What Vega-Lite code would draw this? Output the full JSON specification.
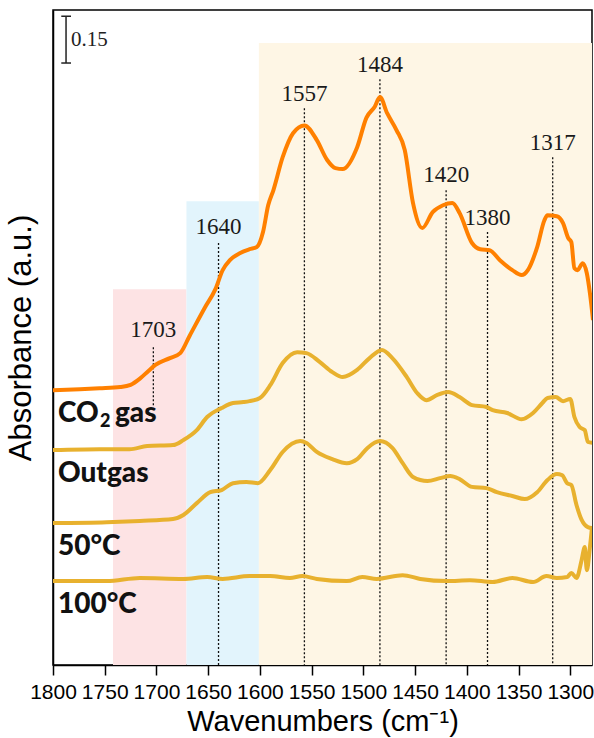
{
  "$schema": "https://vega.github.io/schema/vega-lite/v6.json",
  "width": 539,
  "height": 655,
  "autosize": {"type": "none"},
  "padding": {"left": 53, "top": 10, "right": 2, "bottom": 73},
  "background": "white",
  "config": {
    "view": {"stroke": "black", "strokeWidth": 1.5},
    "font": "Liberation Sans"
  },
  "resolve": {"scale": {"color": "independent"}},
  "datasets": {
    "bands": [
      {"band": "carbonyl", "from": 1742, "to": 1671, "top": 1.205},
      {"band": "bicarbonate", "from": 1671, "to": 1601, "top": 1.487},
      {"band": "carbonate", "from": 1601, "to": 1279, "top": 1.994}
    ],
    "peaks": [
      {"peak": 1703, "labelY": 1.051, "lineTop": 1.019, "lineBottom": 0.833},
      {"peak": 1640, "labelY": 1.381, "lineTop": 1.353, "lineBottom": 0},
      {"peak": 1557, "labelY": 1.808, "lineTop": 1.785, "lineBottom": 0},
      {"peak": 1484, "labelY": 1.901, "lineTop": 1.878, "lineBottom": 0},
      {"peak": 1420, "labelY": 1.548, "lineTop": 1.522, "lineBottom": 0},
      {"peak": 1380, "labelY": 1.41, "lineTop": 1.388, "lineBottom": 0},
      {"peak": 1317, "labelY": 1.651, "lineTop": 1.628, "lineBottom": 0}
    ],
    "scalebar": [
      {"x1": 1787.4, "x2": 1787.4, "y1": 1.93, "y2": 2.08},
      {"x1": 1792, "x2": 1782.6, "y1": 2.08, "y2": 2.08},
      {"x1": 1792, "x2": 1782.6, "y1": 1.93, "y2": 1.93}
    ],
    "names": [
      {"text": "CO", "wn": 1795.2, "a": 0.779},
      {"text": "gas", "wn": 1740.1, "a": 0.779},
      {"text": "Outgas", "wn": 1795.2, "a": 0.587},
      {"text": "50°C", "wn": 1795.2, "a": 0.353},
      {"text": "100°C", "wn": 1795.2, "a": 0.167}
    ],
    "subscripts": [
      {"text": "2", "wn": 1754.6, "a": 0.763}
    ],
    "spectra": [
      {"series": "CO2 gas", "wn": 1800, "a": 0.881},
      {"series": "CO2 gas", "wn": 1774, "a": 0.884},
      {"series": "CO2 gas", "wn": 1755, "a": 0.887},
      {"series": "CO2 gas", "wn": 1735, "a": 0.891},
      {"series": "CO2 gas", "wn": 1725, "a": 0.898},
      {"series": "CO2 gas", "wn": 1716, "a": 0.918},
      {"series": "CO2 gas", "wn": 1708, "a": 0.942},
      {"series": "CO2 gas", "wn": 1701, "a": 0.962},
      {"series": "CO2 gas", "wn": 1687, "a": 0.984},
      {"series": "CO2 gas", "wn": 1677, "a": 1.0},
      {"series": "CO2 gas", "wn": 1668, "a": 1.055},
      {"series": "CO2 gas", "wn": 1653, "a": 1.147},
      {"series": "CO2 gas", "wn": 1643, "a": 1.205},
      {"series": "CO2 gas", "wn": 1636, "a": 1.266},
      {"series": "CO2 gas", "wn": 1629, "a": 1.298},
      {"series": "CO2 gas", "wn": 1619, "a": 1.321},
      {"series": "CO2 gas", "wn": 1610, "a": 1.333},
      {"series": "CO2 gas", "wn": 1603, "a": 1.34},
      {"series": "CO2 gas", "wn": 1597, "a": 1.388},
      {"series": "CO2 gas", "wn": 1592, "a": 1.474},
      {"series": "CO2 gas", "wn": 1587, "a": 1.522},
      {"series": "CO2 gas", "wn": 1578, "a": 1.628},
      {"series": "CO2 gas", "wn": 1568, "a": 1.705},
      {"series": "CO2 gas", "wn": 1557, "a": 1.73},
      {"series": "CO2 gas", "wn": 1545, "a": 1.683},
      {"series": "CO2 gas", "wn": 1535, "a": 1.619},
      {"series": "CO2 gas", "wn": 1527, "a": 1.593},
      {"series": "CO2 gas", "wn": 1520, "a": 1.59},
      {"series": "CO2 gas", "wn": 1506, "a": 1.66},
      {"series": "CO2 gas", "wn": 1497, "a": 1.755},
      {"series": "CO2 gas", "wn": 1489, "a": 1.79},
      {"series": "CO2 gas", "wn": 1484, "a": 1.821},
      {"series": "CO2 gas", "wn": 1477, "a": 1.769},
      {"series": "CO2 gas", "wn": 1468, "a": 1.715},
      {"series": "CO2 gas", "wn": 1460, "a": 1.651},
      {"series": "CO2 gas", "wn": 1452, "a": 1.481},
      {"series": "CO2 gas", "wn": 1443, "a": 1.401},
      {"series": "CO2 gas", "wn": 1433, "a": 1.452},
      {"series": "CO2 gas", "wn": 1423, "a": 1.474},
      {"series": "CO2 gas", "wn": 1414, "a": 1.481},
      {"series": "CO2 gas", "wn": 1407, "a": 1.449},
      {"series": "CO2 gas", "wn": 1395, "a": 1.353},
      {"series": "CO2 gas", "wn": 1387, "a": 1.333},
      {"series": "CO2 gas", "wn": 1378, "a": 1.33},
      {"series": "CO2 gas", "wn": 1368, "a": 1.298},
      {"series": "CO2 gas", "wn": 1356, "a": 1.266},
      {"series": "CO2 gas", "wn": 1347, "a": 1.25},
      {"series": "CO2 gas", "wn": 1341, "a": 1.266},
      {"series": "CO2 gas", "wn": 1332, "a": 1.34},
      {"series": "CO2 gas", "wn": 1325, "a": 1.426},
      {"series": "CO2 gas", "wn": 1322, "a": 1.442},
      {"series": "CO2 gas", "wn": 1313, "a": 1.439},
      {"series": "CO2 gas", "wn": 1307, "a": 1.417},
      {"series": "CO2 gas", "wn": 1302, "a": 1.369},
      {"series": "CO2 gas", "wn": 1299, "a": 1.356},
      {"series": "CO2 gas", "wn": 1296, "a": 1.272},
      {"series": "CO2 gas", "wn": 1293, "a": 1.266},
      {"series": "CO2 gas", "wn": 1288, "a": 1.288},
      {"series": "CO2 gas", "wn": 1284, "a": 1.256},
      {"series": "CO2 gas", "wn": 1281, "a": 1.192},
      {"series": "CO2 gas", "wn": 1278, "a": 1.106},

      {"series": "Outgas", "wn": 1800, "a": 0.689},
      {"series": "Outgas", "wn": 1755, "a": 0.692},
      {"series": "Outgas", "wn": 1726, "a": 0.692},
      {"series": "Outgas", "wn": 1709, "a": 0.702},
      {"series": "Outgas", "wn": 1684, "a": 0.705},
      {"series": "Outgas", "wn": 1674, "a": 0.721},
      {"series": "Outgas", "wn": 1661, "a": 0.753},
      {"series": "Outgas", "wn": 1651, "a": 0.795},
      {"series": "Outgas", "wn": 1637, "a": 0.824},
      {"series": "Outgas", "wn": 1626, "a": 0.84},
      {"series": "Outgas", "wn": 1616, "a": 0.843},
      {"series": "Outgas", "wn": 1610, "a": 0.846},
      {"series": "Outgas", "wn": 1600, "a": 0.856},
      {"series": "Outgas", "wn": 1590, "a": 0.897},
      {"series": "Outgas", "wn": 1578, "a": 0.968},
      {"series": "Outgas", "wn": 1564, "a": 1.003},
      {"series": "Outgas", "wn": 1555, "a": 1.0},
      {"series": "Outgas", "wn": 1542, "a": 0.971},
      {"series": "Outgas", "wn": 1530, "a": 0.939},
      {"series": "Outgas", "wn": 1520, "a": 0.923},
      {"series": "Outgas", "wn": 1506, "a": 0.946},
      {"series": "Outgas", "wn": 1494, "a": 0.984},
      {"series": "Outgas", "wn": 1482, "a": 1.01},
      {"series": "Outgas", "wn": 1472, "a": 0.984},
      {"series": "Outgas", "wn": 1458, "a": 0.923},
      {"series": "Outgas", "wn": 1448, "a": 0.872},
      {"series": "Outgas", "wn": 1439, "a": 0.849},
      {"series": "Outgas", "wn": 1429, "a": 0.865},
      {"series": "Outgas", "wn": 1418, "a": 0.875},
      {"series": "Outgas", "wn": 1407, "a": 0.859},
      {"series": "Outgas", "wn": 1395, "a": 0.833},
      {"series": "Outgas", "wn": 1381, "a": 0.827},
      {"series": "Outgas", "wn": 1375, "a": 0.817},
      {"series": "Outgas", "wn": 1361, "a": 0.808},
      {"series": "Outgas", "wn": 1347, "a": 0.788},
      {"series": "Outgas", "wn": 1336, "a": 0.808},
      {"series": "Outgas", "wn": 1327, "a": 0.84},
      {"series": "Outgas", "wn": 1322, "a": 0.856},
      {"series": "Outgas", "wn": 1314, "a": 0.859},
      {"series": "Outgas", "wn": 1307, "a": 0.846},
      {"series": "Outgas", "wn": 1300, "a": 0.853},
      {"series": "Outgas", "wn": 1296, "a": 0.795},
      {"series": "Outgas", "wn": 1291, "a": 0.763},
      {"series": "Outgas", "wn": 1286, "a": 0.753},
      {"series": "Outgas", "wn": 1283, "a": 0.715},
      {"series": "Outgas", "wn": 1278, "a": 0.712},

      {"series": "50°C", "wn": 1800, "a": 0.455},
      {"series": "50°C", "wn": 1748, "a": 0.458},
      {"series": "50°C", "wn": 1716, "a": 0.462},
      {"series": "50°C", "wn": 1684, "a": 0.468},
      {"series": "50°C", "wn": 1674, "a": 0.481},
      {"series": "50°C", "wn": 1661, "a": 0.519},
      {"series": "50°C", "wn": 1648, "a": 0.554},
      {"series": "50°C", "wn": 1637, "a": 0.561},
      {"series": "50°C", "wn": 1626, "a": 0.583},
      {"series": "50°C", "wn": 1613, "a": 0.587},
      {"series": "50°C", "wn": 1602, "a": 0.583},
      {"series": "50°C", "wn": 1590, "a": 0.625},
      {"series": "50°C", "wn": 1578, "a": 0.683},
      {"series": "50°C", "wn": 1561, "a": 0.718},
      {"series": "50°C", "wn": 1555, "a": 0.712},
      {"series": "50°C", "wn": 1545, "a": 0.683},
      {"series": "50°C", "wn": 1530, "a": 0.66},
      {"series": "50°C", "wn": 1516, "a": 0.647},
      {"series": "50°C", "wn": 1506, "a": 0.66},
      {"series": "50°C", "wn": 1496, "a": 0.696},
      {"series": "50°C", "wn": 1484, "a": 0.718},
      {"series": "50°C", "wn": 1472, "a": 0.696},
      {"series": "50°C", "wn": 1462, "a": 0.647},
      {"series": "50°C", "wn": 1452, "a": 0.603},
      {"series": "50°C", "wn": 1438, "a": 0.59},
      {"series": "50°C", "wn": 1426, "a": 0.599},
      {"series": "50°C", "wn": 1416, "a": 0.606},
      {"series": "50°C", "wn": 1407, "a": 0.596},
      {"series": "50°C", "wn": 1395, "a": 0.571},
      {"series": "50°C", "wn": 1381, "a": 0.567},
      {"series": "50°C", "wn": 1371, "a": 0.554},
      {"series": "50°C", "wn": 1356, "a": 0.542},
      {"series": "50°C", "wn": 1344, "a": 0.532},
      {"series": "50°C", "wn": 1332, "a": 0.554},
      {"series": "50°C", "wn": 1322, "a": 0.593},
      {"series": "50°C", "wn": 1313, "a": 0.612},
      {"series": "50°C", "wn": 1308, "a": 0.609},
      {"series": "50°C", "wn": 1303, "a": 0.583},
      {"series": "50°C", "wn": 1299, "a": 0.577},
      {"series": "50°C", "wn": 1294, "a": 0.513},
      {"series": "50°C", "wn": 1289, "a": 0.465},
      {"series": "50°C", "wn": 1283, "a": 0.442},
      {"series": "50°C", "wn": 1279, "a": 0.439},

      {"series": "100°C", "wn": 1800, "a": 0.269},
      {"series": "100°C", "wn": 1748, "a": 0.269},
      {"series": "100°C", "wn": 1716, "a": 0.279},
      {"series": "100°C", "wn": 1674, "a": 0.276},
      {"series": "100°C", "wn": 1651, "a": 0.282},
      {"series": "100°C", "wn": 1636, "a": 0.276},
      {"series": "100°C", "wn": 1610, "a": 0.285},
      {"series": "100°C", "wn": 1590, "a": 0.285},
      {"series": "100°C", "wn": 1571, "a": 0.279},
      {"series": "100°C", "wn": 1559, "a": 0.285},
      {"series": "100°C", "wn": 1545, "a": 0.276},
      {"series": "100°C", "wn": 1516, "a": 0.269},
      {"series": "100°C", "wn": 1501, "a": 0.282},
      {"series": "100°C", "wn": 1487, "a": 0.276},
      {"series": "100°C", "wn": 1462, "a": 0.288},
      {"series": "100°C", "wn": 1445, "a": 0.276},
      {"series": "100°C", "wn": 1419, "a": 0.269},
      {"series": "100°C", "wn": 1397, "a": 0.272},
      {"series": "100°C", "wn": 1375, "a": 0.266},
      {"series": "100°C", "wn": 1356, "a": 0.279},
      {"series": "100°C", "wn": 1336, "a": 0.266},
      {"series": "100°C", "wn": 1323, "a": 0.285},
      {"series": "100°C", "wn": 1313, "a": 0.279},
      {"series": "100°C", "wn": 1303, "a": 0.282},
      {"series": "100°C", "wn": 1299, "a": 0.295},
      {"series": "100°C", "wn": 1294, "a": 0.279},
      {"series": "100°C", "wn": 1289, "a": 0.337},
      {"series": "100°C", "wn": 1286, "a": 0.378},
      {"series": "100°C", "wn": 1284, "a": 0.304},
      {"series": "100°C", "wn": 1281, "a": 0.378},
      {"series": "100°C", "wn": 1279, "a": 0.442}
    ]
  },
  "layer": [
    {
      "data": {"name": "bands"},
      "mark": {"type": "rect"},
      "encoding": {
        "x": {
          "field": "from", "type": "quantitative",
          "scale": {"domain": [1800, 1279], "nice": false, "zero": false},
          "axis": {
            "values": [1800, 1775, 1750, 1725, 1700, 1675, 1650, 1625, 1600, 1575, 1550, 1525, 1500, 1475, 1450, 1425, 1400, 1375, 1350, 1325, 1300],
            "format": "d",
            "labelExpr": "datum.value % 50 === 0 ? datum.label : ''",
            "labelOverlap": false,
            "labelFlush": false,
            "labelFontSize": 21,
            "labelColor": "black",
            "labelPadding": 6,
            "tickColor": "black",
            "tickWidth": 1.5,
            "tickSize": {"condition": {"test": "datum.value % 50 === 0", "value": 10}, "value": 5},
            "domainColor": "black",
            "domainWidth": 1.5,
            "grid": false,
            "title": "Wavenumbers (cm⁻¹)",
            "titleFontSize": 29,
            "titleFontWeight": "normal",
            "titleColor": "black",
            "titlePadding": 5
          }
        },
        "x2": {"field": "to"},
        "y": {
          "field": "top", "type": "quantitative",
          "scale": {"domain": [0, 2.1], "nice": false, "zero": false},
          "axis": {
            "labels": false,
            "ticks": false,
            "grid": false,
            "domainColor": "black",
            "domainWidth": 1.5,
            "title": "Absorbance (a.u.)",
            "titleFontSize": 31,
            "titleFontWeight": "normal",
            "titleColor": "black",
            "titlePadding": 16
          }
        },
        "y2": {"datum": 0},
        "color": {
          "field": "band", "type": "nominal",
          "scale": {"domain": ["carbonyl", "bicarbonate", "carbonate"], "range": ["#FDE3E4", "#E2F4FC", "#FEF6E5"]},
          "legend": null
        }
      }
    },
    {
      "data": {"name": "peaks"},
      "mark": {"type": "rule", "color": "#111", "strokeWidth": 1.3, "strokeDash": [2, 2]},
      "encoding": {
        "x": {"field": "peak", "type": "quantitative"},
        "y": {"field": "lineTop", "type": "quantitative"},
        "y2": {"field": "lineBottom"}
      }
    },
    {
      "data": {"name": "peaks"},
      "mark": {"type": "text", "font": "Liberation Serif", "fontSize": 23, "color": "#1a1a1a", "align": "center", "baseline": "alphabetic"},
      "encoding": {
        "x": {"field": "peak", "type": "quantitative"},
        "y": {"field": "labelY", "type": "quantitative"},
        "text": {"field": "peak", "type": "quantitative", "format": "d"}
      }
    },
    {
      "data": {"name": "spectra"},
      "mark": {"type": "line", "strokeWidth": 4, "interpolate": "monotone", "clip": true},
      "encoding": {
        "x": {"field": "wn", "type": "quantitative"},
        "y": {"field": "a", "type": "quantitative"},
        "color": {
          "field": "series", "type": "nominal",
          "scale": {"domain": ["CO2 gas", "Outgas", "50°C", "100°C"], "range": ["#FF8000", "#E8B12E", "#E8B12E", "#E8B12E"]},
          "legend": null
        }
      }
    },
    {
      "data": {"name": "scalebar"},
      "mark": {"type": "rule", "color": "#222", "strokeWidth": 1.5},
      "encoding": {
        "x": {"field": "x1", "type": "quantitative"},
        "x2": {"field": "x2"},
        "y": {"field": "y1", "type": "quantitative"},
        "y2": {"field": "y2"}
      }
    },
    {
      "data": {"values": [{"text": "0.15", "wn": 1782.6, "a": 2.003}]},
      "mark": {"type": "text", "font": "Liberation Serif", "fontSize": 21, "color": "#222", "align": "left", "baseline": "middle"},
      "encoding": {
        "x": {"field": "wn", "type": "quantitative"},
        "y": {"field": "a", "type": "quantitative"},
        "text": {"field": "text"}
      }
    },
    {
      "data": {"name": "names"},
      "mark": {"type": "text", "font": "Lato", "fontWeight": 900, "fontSize": 28, "color": "#111", "align": "left", "baseline": "alphabetic"},
      "encoding": {
        "x": {"field": "wn", "type": "quantitative"},
        "y": {"field": "a", "type": "quantitative"},
        "text": {"field": "text"}
      }
    },
    {
      "data": {"name": "subscripts"},
      "mark": {"type": "text", "font": "Lato", "fontWeight": 900, "fontSize": 18, "color": "#111", "align": "left", "baseline": "alphabetic"},
      "encoding": {
        "x": {"field": "wn", "type": "quantitative"},
        "y": {"field": "a", "type": "quantitative"},
        "text": {"field": "text"}
      }
    }
  ]
}
